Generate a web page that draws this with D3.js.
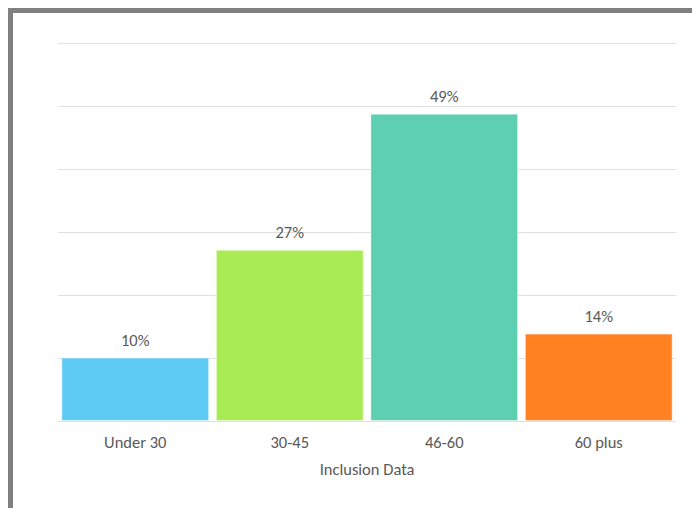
<!DOCTYPE html>
<html><head><meta charset="utf-8">
<script src="https://cdn.jsdelivr.net/npm/d3@7"></script>
<style>
html,body{margin:0;padding:0;background:#fff;}
svg{display:block;}
</style></head>
<body>
<script>
const categories = ["Under 30", "30-45", "46-60", "60 plus"];
const values = [10, 27.1, 48.7, 13.8];
const valueLabels = ["10%", "27%", "49%", "14%"];
const colors = ["#5ECBF4", "#A8EB53", "#5ECFB1", "#FF8121"];
const yTicks = [0, 10, 20, 30, 40, 50, 60];
const xTitle = "Inclusion Data";

(function () {
const W = 692, H = 508;
const svg = d3.select("body").append("svg").attr("width", W).attr("height", H);
const font = "Carlito, Lato, 'Open Sans', sans-serif";
const fs = 16.5;

// frame border
svg.append("rect").attr("x", 8).attr("y", 8).attr("width", W).attr("height", 5).attr("fill", "#808080");
svg.append("rect").attr("x", 8).attr("y", 8).attr("width", 5).attr("height", H).attr("fill", "#808080");

const mLeft = 58, mRight = 676, mTop = 43, mBottom = 421;
const x = d3.scaleBand().domain(categories).range([mLeft, mRight]).paddingInner(0.05).paddingOuter(0.025);
const y = d3.scaleLinear().domain([0, 60]).range([mBottom, mTop]);

const g = svg.append("g");
g.selectAll("line.grid").data(yTicks).enter().append("line")
  .attr("x1", mLeft).attr("x2", mRight)
  .attr("y1", d => Math.round(y(d)) + 0.5).attr("y2", d => Math.round(y(d)) + 0.5)
  .attr("stroke", "#e0e0e0").attr("stroke-width", 1.2);

g.selectAll("rect.bar").data(values).enter().append("rect")
  .attr("x", (d, i) => x(categories[i]))
  .attr("width", x.bandwidth())
  .attr("y", d => y(d))
  .attr("height", d => y(0) - y(d) - 0.5)
  .attr("fill", (d, i) => colors[i])
  .attr("stroke", "rgba(255,255,255,0.45)").attr("stroke-width", 1);

g.selectAll("text.val").data(values).enter().append("text")
  .attr("x", (d, i) => x(categories[i]) + x.bandwidth() / 2)
  .attr("y", d => y(d) - 12)
  .attr("text-anchor", "middle")
  .attr("font-family", font).attr("font-size", fs).attr("fill", "#595959")
  .text((d, i) => valueLabels[i]);

const xAxis = d3.axisBottom(x).tickSize(0);
const ax = svg.append("g").attr("transform", `translate(0,${mBottom})`).call(xAxis);
ax.select(".domain").remove();
ax.selectAll("text").attr("dy", 0).attr("y", 27)
  .attr("font-family", font).attr("font-size", fs).attr("fill", "#595959");

svg.append("text").attr("x", (mLeft + mRight) / 2).attr("y", 475)
  .attr("text-anchor", "middle")
  .attr("font-family", font).attr("font-size", fs).attr("fill", "#595959")
  .text(xTitle);
})();
</script>
</body></html>
